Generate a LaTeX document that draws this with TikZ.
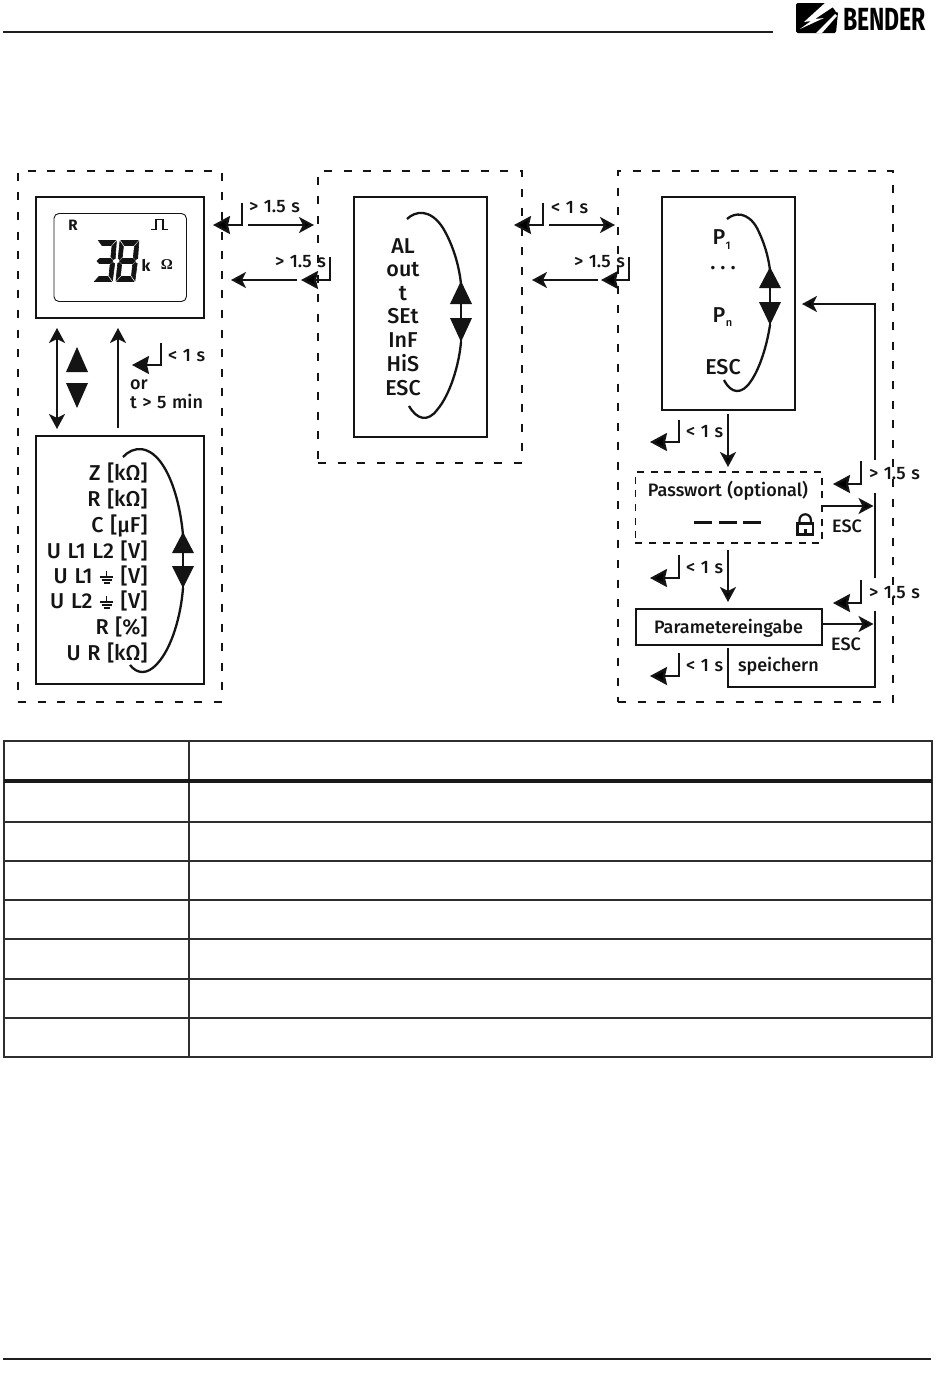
\documentclass[tikz,border=0pt]{standalone}
\usepackage{fontspec}
\usetikzlibrary{arrows.meta}
\setmainfont{Fira Sans Medium}[BoldFont={Fira Sans Bold},WordSpace=1.25]
\newfontfamily\lcdfont{Liberation Serif}[Scale=1]
\definecolor{ink}{gray}{0.08}
\tikzset{
  solidbox/.style={draw=ink,line width=1.8pt,inner sep=0pt,outer sep=0pt},
  dashbox/.style={draw=ink,line width=1.7pt,inner sep=0pt,outer sep=0pt,dash pattern=on 8pt off 11.6pt},
  smalldash/.style={draw=ink,line width=1.6pt,inner sep=0pt,outer sep=0pt,dash pattern=on 7pt off 6.6pt},
  lbl/.style={inner sep=0pt,outer sep=0pt,anchor=mid west,yshift=-4pt,font=\fontsize{18}{18}\selectfont,text=ink},
  ctr/.style={inner sep=0pt,outer sep=0pt,anchor=mid,yshift=-4pt,font=\fontsize{18}{18}\selectfont,text=ink},
  menuR/.style={inner sep=0pt,outer sep=0pt,anchor=mid east,yshift=-5pt,font=\fontsize{21.5}{21.5}\selectfont,text=ink},
  menuC/.style={inner sep=0pt,outer sep=0pt,anchor=mid,yshift=-5pt,font=\fontsize{21.5}{21.5}\selectfont,text=ink},
  conn/.style={draw=ink,line width=2.3pt,-{Stealth[length=15pt,width=16pt,inset=4pt]}},
  dconn/.style={draw=ink,line width=2.3pt,{Stealth[length=15pt,width=16pt,inset=4pt]}-{Stealth[length=15pt,width=16pt,inset=4pt]}},
  plain/.style={draw=ink,line width=2.3pt},
  curve/.style={draw=ink,line width=2.3pt},
  enterk/.style={draw=ink,line width=2.3pt,-{Stealth[length=17pt,width=18pt,inset=2pt]}},
  tbl/.style={draw=black!82,line width=2.2pt},
  seg/.style={fill=ink,draw=ink,line width=0.6pt},
}
\newcommand{\enterkey}[4]{\draw[enterk] (#1,#2) -- (#1,#3) -- (#4,#3);}
\newcommand{\upT}[3]{\fill[ink] (#1,#2) -- (#1-11,#3) -- (#1+11,#3) -- cycle;}
\newcommand{\gnd}{\tikz[baseline=0pt,x=1pt,y=1pt,line width=1.7pt]{\draw[ink] (0,6) -- (0,13);\draw[ink] (-6.5,7) -- (6.5,7);\draw[ink] (-5,3.7) -- (5,3.7);\draw[ink] (-3,0.6) -- (3,0.6);}}
\newcommand{\segA}{\path[seg] (1,0)--(18,0)--(14,5)--(5,5)--cycle;}
\newcommand{\segD}{\path[seg] (1,41)--(18,41)--(14,36)--(5,36)--cycle;}
\newcommand{\segG}{\path[seg] (4,18)--(15,18)--(17.5,20.5)--(15,23)--(4,23)--(1.5,20.5)--cycle;}
\newcommand{\segB}{\path[seg] (19,1)--(19.5,18)--(17.5,19)--(15,16.5)--(15,6)--cycle;}
\newcommand{\segC}{\path[seg] (19.5,23)--(19,40)--(15,35)--(15,24.5)--(17.5,22)--cycle;}
\newcommand{\segF}{\path[seg] (0,1)--(4,6)--(4,16.5)--(1.5,19)--(0,18)--cycle;}
\newcommand{\segE}{\path[seg] (0,23)--(1.5,22)--(4,24.5)--(4,35)--(0,40)--cycle;}
\begin{document}
\begin{tikzpicture}[x=1pt,y=-1pt]
\useasboundingbox (0,0) rectangle (950,1392);
\fill[white] (0,0) rectangle (950,1392);

% page furniture
\draw[draw=black!88,line width=2pt] (3,32) -- (773,32);
\draw[draw=black!88,line width=2pt] (3,1359) -- (931,1359);
% logo
\fill[black,rounded corners=1.5pt] (796,3) -- (827,3) -- (838,12) -- (836,33) -- (796,33) -- cycle;
\fill[white] (826,2) -- (840,2) -- (840,12) -- (836,12) -- (833,7) -- (815,19) -- (824,18) -- (800,29) -- (811,21) -- (804,22) -- cycle;
\fill[white] (835,14) -- (837,16) -- (822,33) -- (816,33) -- cycle;
\node[inner sep=0pt,outer sep=0pt,anchor=base west,font=\fontsize{32}{32}\bfseries\selectfont,text=black,xscale=0.72] (brand) at (843,30.5) {BENDER};

% dashed groups
\node[dashbox,minimum width=204pt,minimum height=531pt] (g1) at (120,436.5) {};
\node[dashbox,minimum width=204pt,minimum height=292pt] (g2) at (420,317) {};
\node[dashbox,minimum width=275pt,minimum height=531pt] (g3) at (755.5,436.5) {};

% group 1
\node[solidbox,minimum width=168pt,minimum height=121pt] (disp) at (120,257.5) {};
\node[draw=ink,line width=0.9pt,rounded corners=5pt,minimum width=132.5pt,minimum height=88pt,inner sep=0pt,outer sep=0pt] (lcd) at (120.2,257.5) {};
\node[inner sep=0pt,font=\fontsize{15}{15}\bfseries\selectfont,text=ink] (lcdR) at (73,225) {R};
\draw[draw=ink,line width=1.1pt] (151,229.5) -- (156,229.5) -- (156,219.5) -- (163,219.5) -- (163,229.5) -- (168,229.5);
\begin{scope}[shift={(97.5,240.5)},xslant=0.1]
\segA\segB\segG\segC\segD
\end{scope}
\begin{scope}[shift={(120,240.5)},xslant=0.1]
\segA\segB\segG\segC\segD\segE\segF
\end{scope}
\node[inner sep=0pt,font=\fontsize{16}{16}\bfseries\selectfont,text=ink] (lcdk) at (146,265) {k};
\node[inner sep=0pt,font=\fontsize{15}{15}\lcdfont\bfseries\selectfont,text=ink] (lcdO) at (167,265) {Ω};

\node[solidbox,minimum width=168pt,minimum height=248pt] (list1) at (120,560) {};
\coordinate (a1) at (57,328); \coordinate (a2) at (57,429);
\coordinate (a3) at (118,428); \coordinate (a4) at (118,328);
\draw[dconn] (a1) -- (a2);
\draw[conn] (a3) -- (a4);
\upT{77}{347}{372}
\upT{77}{408}{383}
\enterkey{161}{343}{365}{132}
\node[lbl] (l1) at (168,355) {< 1 s};
\node[lbl] (l2) at (130,383) {or};
\node[lbl] (l3) at (130,402) {t > 5 min};

\node[menuR] (m1) at (147.5,473) {Z [kΩ]};
\node[menuR] (m2) at (147.5,499) {R [kΩ]};
\node[menuR] (m3) at (147.5,525) {C [µF]};
\node[menuR] (m4) at (147.5,551) {U L1 L2 [V]};
\node[menuR] (m5) at (147.5,576) {U L1 \gnd{} [V]};
\node[menuR] (m6) at (147.5,601) {U L2 \gnd{} [V]};
\node[menuR] (m7) at (147.5,627) {R [\%]};
\node[menuR] (m8) at (147.5,653) {U R [kΩ]};
\draw[curve] (123,457) .. controls (133,446) and (150,444) .. (164,467) .. controls (175,485) and (181,512) .. (183,535);
\draw[curve] (183,535) -- (183,588);
\draw[curve] (183,588) .. controls (181,615) and (172,648) .. (157,664) .. controls (147,675) and (137,674) .. (130,665);
\upT{183}{532}{553}
\upT{183}{588}{566}

% links 1-2
\enterkey{242}{203}{225}{213}
\node[lbl] (l4) at (249,206) {> 1.5 s};
\coordinate (b1) at (248,225); \coordinate (b2) at (314,225);
\draw[conn] (b1) -- (b2);
\enterkey{330}{257}{280}{301}
\node[lbl] (l5) at (275,261) {> 1.5 s};
\coordinate (b3) at (297,280); \coordinate (b4) at (231,280);
\draw[conn] (b3) -- (b4);

% group 2
\node[solidbox,minimum width=133pt,minimum height=240pt] (list2) at (420.5,317) {};
\node[menuC] (n1) at (403,246) {AL};
\node[menuC] (n2) at (403,269) {out};
\node[menuC] (n3) at (403,293) {t};
\node[menuC] (n4) at (403,316) {SEt};
\node[menuC] (n5) at (403,340) {InF};
\node[menuC] (n6) at (403,364) {HiS};
\node[menuC] (n7) at (403,388) {ESC};
\draw[curve] (407,219) .. controls (415,211) and (430,208) .. (443,228) .. controls (453,245) and (459,265) .. (461,284);
\draw[curve] (461,284) -- (461,342);
\draw[curve] (461,342) .. controls (459,365) and (450,395) .. (437,410) .. controls (428,422) and (417,420) .. (409,406);
\upT{461}{281}{304}
\upT{461}{342}{318}

% links 2-3
\enterkey{543}{203}{225}{514}
\node[lbl] (l6) at (551,207) {< 1 s};
\coordinate (c1) at (549,225); \coordinate (c2) at (615,225);
\draw[conn] (c1) -- (c2);
\enterkey{629}{257}{280}{601}
\node[lbl] (l7) at (574,261) {> 1.5 s};
\coordinate (c3) at (598,280); \coordinate (c4) at (532,280);
\draw[conn] (c3) -- (c4);

% group 3
\node[solidbox,minimum width=133pt,minimum height=213pt] (list3) at (728.5,303.5) {};
\node[menuC] (p1) at (719,237) {P};
\node[inner sep=0pt,font=\fontsize{11}{11}\selectfont,text=ink] (p1s) at (728,246) {1};
\node[menuC] (pd) at (723,262) {.\hspace{5pt}.\hspace{5pt}.};
\node[menuC] (pn) at (719,315) {P};
\node[inner sep=0pt,font=\fontsize{11}{11}\selectfont,text=ink] (pns) at (729,324) {n};
\node[menuC] (pe) at (723,367) {ESC};
\draw[curve] (727,219) .. controls (735,212) and (748,212) .. (757,228) .. controls (764,242) and (768,255) .. (770,270);
\draw[curve] (770,270) -- (770,325);
\draw[curve] (770,325) .. controls (767,345) and (760,368) .. (751,381) .. controls (742,395) and (731,394) .. (724,380);
\upT{770}{267}{288}
\upT{770}{325}{302}

\node[smalldash,minimum width=186.5pt,minimum height=71pt] (pw) at (728.7,507.5) {};
\node[ctr] (pwt) at (728,490) {Passwort (optional)};
\fill[ink] (694,520.7) rectangle (712,523.7);
\fill[ink] (719,520.7) rectangle (737,523.7);
\fill[ink] (743,520.7) rectangle (761,523.7);
% lock
\draw[draw=ink,line width=2.2pt] (797.5,523.5) rectangle (813,534.5);
\draw[draw=ink,line width=2.2pt] (799.5,523.5) -- (799.5,520) arc[start angle=180,end angle=0,radius=5.7pt] -- (810.9,523.5);
\fill[ink] (803.5,529) rectangle (807,534.5);

\node[solidbox,minimum width=186pt,minimum height=36pt] (par) at (729,627) {};
\node[ctr] (part) at (728.5,627) {Parametereingabe};

\coordinate (d1) at (728,414);
\draw[conn] (d1) -- (728,467);
\coordinate (d2) at (728,550);
\draw[conn] (d2) -- (728,602);
\enterkey{679}{420}{442}{650}
\node[lbl] (l8) at (686,431) {< 1 s};
\enterkey{679}{555}{578}{650}
\node[lbl] (l9) at (686,567) {< 1 s};
\enterkey{679}{653}{676}{650}
\node[lbl] (l10) at (686,665) {< 1 s};
\node[lbl] (l11) at (738,665) {speichern};

\enterkey{861}{461}{484}{833}
\node[lbl] (l12) at (869,473) {> 1.5 s};
\enterkey{861}{580}{603}{833}
\node[lbl] (l13) at (869,592) {> 1.5 s};
\node[ctr] (e1) at (847,526) {ESC};
\node[ctr] (e2) at (846,644) {ESC};

\coordinate (r1) at (875,460); \coordinate (r2) at (875,304); \coordinate (r3) at (802,304);
\draw[conn] (r1) -- (r2) -- (r3);
\draw[plain] (875,493) -- (875,578);
\coordinate (s1) at (728,648); \coordinate (s2) at (728,687); \coordinate (s3) at (875,687); \coordinate (s4) at (875,611);
\draw[plain] (s1) -- (s2) -- (s3) -- (s4);
\coordinate (t1) at (873.5,506);
\draw[conn] (pw.east |- t1) -- (t1);
\coordinate (t2) at (873.5,624);
\draw[conn] (par.east |- t2) -- (t2);

% table
\draw[tbl] (4,741) rectangle (932,1057);
\draw[tbl] (189,741) -- (189,1057);
\draw[draw=black!90,line width=3.6pt] (4,781) -- (932,781);
\foreach \yy in {822,861,900,939,979,1018} {\draw[tbl] (4,\yy) -- (932,\yy);}
\end{tikzpicture}
\end{document}
